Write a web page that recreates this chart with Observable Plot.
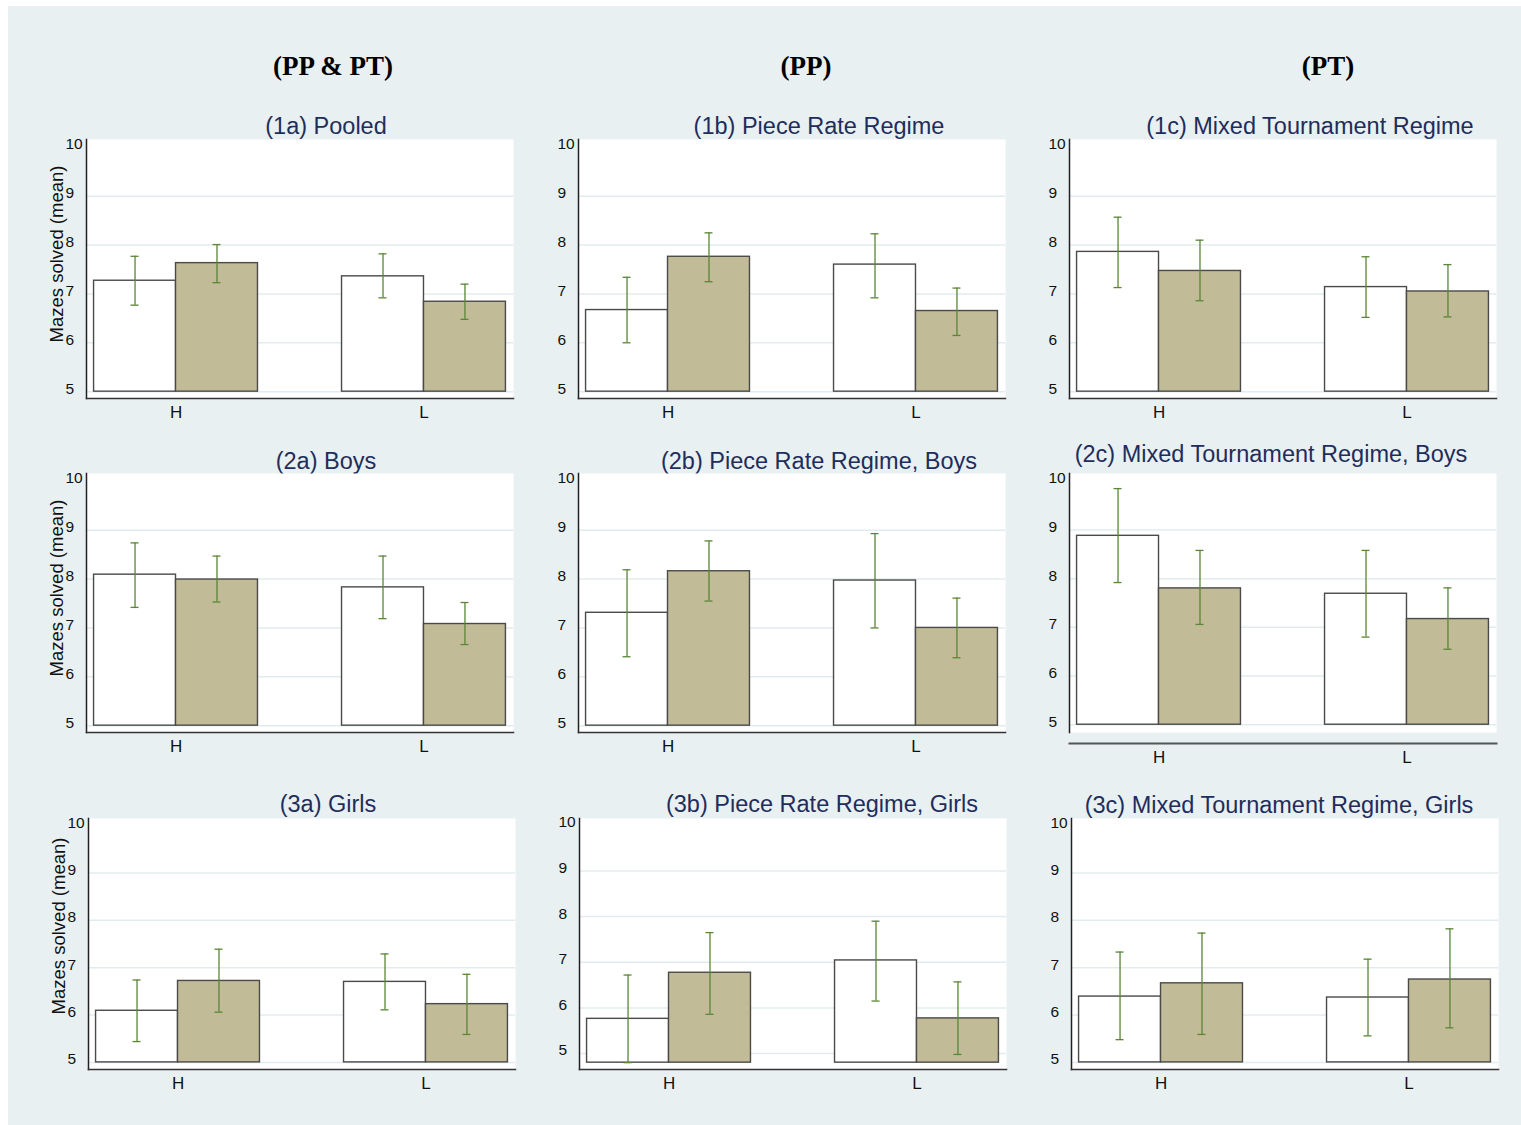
<!DOCTYPE html>
<html>
<head>
<meta charset="utf-8">
<script src="https://cdn.jsdelivr.net/npm/d3@7"></script>
<script src="https://cdn.jsdelivr.net/npm/@observablehq/plot@0.6"></script>
<style>
  body { margin: 0; background: #ffffff; }
  #page { position: relative; width: 1521px; height: 1125px; overflow: hidden; }
  #bg { position: absolute; left: 8px; top: 6px; right: 0; bottom: 0; background: #e8f0f2; }
  .head {
    position: absolute; transform: translate(-50%, -50%); white-space: nowrap;
    font-family: "Liberation Serif", "Times New Roman", serif; font-weight: bold;
    font-size: 27px; color: #000;
  }
  .panel { position: absolute; }
</style>
</head>
<body>
<div id="page"><div id="bg"></div></div>
<script>
// ---- data ----
const categories = ["H", "L"];
const seriesNames = ["seriesA", "seriesB"]; // white bars, tan bars
const columnHeads = ["(PP & PT)", "(PP)", "(PT)"];
const panelTitles = [
  "(1a) Pooled", "(1b) Piece Rate Regime", "(1c) Mixed Tournament Regime",
  "(2a) Boys", "(2b) Piece Rate Regime, Boys", "(2c) Mixed Tournament Regime, Boys",
  "(3a) Girls", "(3b) Piece Rate Regime, Girls", "(3c) Mixed Tournament Regime, Girls"
];
const yLabel = "Mazes solved (mean)";
const yTicks = [5, 6, 7, 8, 9, 10];
const gridTicks = [5, 6, 7, 8, 9];

// means and confidence bounds per panel, [H, L]
const meanA = [[7.27, 7.36], [6.67, 7.60], [7.86, 7.14],
               [8.09, 7.83], [7.31, 7.97], [8.88, 7.69],
               [6.09, 6.70], [5.76, 7.04], [6.39, 6.37]];
const lowA  = [[6.77, 6.92], [6.00, 6.92], [7.13, 6.52],
               [7.42, 7.19], [6.41, 7.00], [7.92, 6.80],
               [5.44, 6.11], [4.80, 6.15], [5.48, 5.56]];
const highA = [[7.77, 7.82], [7.34, 8.23], [8.57, 7.76],
               [8.74, 8.47], [8.19, 8.93], [9.85, 8.58],
               [6.74, 7.29], [6.72, 7.90], [7.33, 7.18]];
const meanB = [[7.63, 6.84], [7.76, 6.65], [7.47, 7.05],
               [7.99, 7.08], [8.16, 7.00], [7.80, 7.17],
               [6.72, 6.23], [6.77, 5.77], [6.67, 6.75]];
const lowB  = [[7.23, 6.48], [7.25, 6.15], [6.86, 6.53],
               [7.53, 6.66], [7.55, 6.39], [7.06, 6.55],
               [6.06, 5.59], [5.86, 4.98], [5.59, 5.73]];
const highB = [[8.01, 7.20], [8.25, 7.12], [8.10, 7.60],
               [8.47, 7.52], [8.78, 7.61], [8.58, 7.81],
               [7.39, 6.86], [7.65, 6.57], [7.73, 7.82]];
const barBase = [5, 5, 5, 5, 5, 5, 5, 4.8, 5];

// ---- layout ----
const plotW = 427;
const rowLefts = [[86, 578, 1069], [86, 578, 1069], [88, 579, 1071]];
const rowTops = [139, 473, 818];
const rowHeights = [259, 259, 251];
const yDomains = [[4.86, 10.16], [4.86, 10.16], [4.86, 10.16],
                  [4.86, 10.16], [4.86, 10.16], [4.84, 10.16],
                  [4.85, 10.15], [4.65, 10.15], [4.85, 10.15]];
const titleDx = [26, 27, 27, 26, 27, -12, 26, 29, -6];
const titleGap = [13, 13, 13, 12, 12, 19, 14, 14, 13];
const axisDrop = [0, 0, 0, 0, 0, 11, 0, 0, 0];
const headX = [333, 806, 1328];
const headY = 66;

const mL = 70, mR = 10, mT = 40, mB = 40;
const pIn = 0.339, pOut = 0.0305;
const step = plotW / (categories.length - pIn + 2 * pOut);
const bw = step * (1 - pIn);
const capHalf = 4;

const navy = "#1f2d5c";
const tan = "#c2bb97";
const edge = "#4a4a4a";
const green = "#5a8636";
const yTickSize = 15.5, xTickSize = 17;

const page = document.getElementById("page");

columnHeads.forEach((t, c) => {
  const d = document.createElement("div");
  d.className = "head";
  d.textContent = t;
  d.style.left = headX[c] + "px";
  d.style.top = headY + "px";
  page.appendChild(d);
});

panelTitles.forEach((title, i) => {
  const r = Math.floor(i / 3), c = i % 3;
  const H = rowHeights[r];
  const rowsA = categories.map((cat, k) => ({cat, series: seriesNames[0], mean: meanA[i][k], lo: lowA[i][k], hi: highA[i][k], base: barBase[i]}));
  const rowsB = categories.map((cat, k) => ({cat, series: seriesNames[1], mean: meanB[i][k], lo: lowB[i][k], hi: highB[i][k], base: barBase[i]}));

  const errMarks = (rows, shift) => [
    Plot.ruleX(rows, {x: "cat", y1: "lo", y2: "hi", dx: shift, stroke: green, strokeWidth: 1.3}),
    Plot.tickY(rows, {x: "cat", y: "lo", dx: shift, insetLeft: bw / 2 - capHalf, insetRight: bw / 2 - capHalf, stroke: green, strokeWidth: 1.3}),
    Plot.tickY(rows, {x: "cat", y: "hi", dx: shift, insetLeft: bw / 2 - capHalf, insetRight: bw / 2 - capHalf, stroke: green, strokeWidth: 1.3})
  ];

  const marks = [
    Plot.text([title], {frameAnchor: "top", dx: titleDx[i], dy: -titleGap[i], lineAnchor: "middle", fontSize: 23.5, fill: navy}),
    Plot.frame({fill: "white", stroke: "none"}),
    Plot.gridY(gridTicks, {stroke: "#e2ecef", strokeOpacity: 1, strokeWidth: 1.5}),
    Plot.barY(rowsA, {x: "cat", y1: "base", y2: "mean", fill: "white", stroke: edge, strokeWidth: 1.4, insetRight: bw / 2}),
    Plot.barY(rowsB, {x: "cat", y1: "base", y2: "mean", fill: tan, stroke: edge, strokeWidth: 1.4, insetLeft: bw / 2}),
    ...errMarks(rowsA, -bw / 4),
    ...errMarks(rowsB, bw / 4),
    Plot.frame({anchor: "left", stroke: "#222", strokeWidth: 1.5}),
    Plot.frame({anchor: "bottom", stroke: axisDrop[i] ? "#555" : "#333", strokeWidth: axisDrop[i] ? 2 : 1.5, dy: axisDrop[i]}),
    Plot.axisY({ticks: yTicks, tickFormat: "d", tickSize: 0, tickPadding: 21, textAnchor: "start", dy: -3, label: null, fill: "#111"}),
    Plot.axisX({tickSize: 0, tickPadding: 7 + axisDrop[i], label: null, fill: "#111"})
  ];
  if (c === 0) {
    marks.push(Plot.text([yLabel], {frameAnchor: "left", textAnchor: "middle", rotate: -90, dx: -29, dy: r === 2 ? -18 : -15, fontSize: 18.5, fill: "#111"}));
  }

  const svg = Plot.plot({
    width: mL + plotW + mR,
    height: mT + H + mB,
    marginLeft: mL, marginRight: mR, marginTop: mT, marginBottom: mB,
    style: "background: transparent; overflow: visible; font-family: 'Liberation Sans', Arial, sans-serif; font-size: 15px;",
    x: {domain: categories, paddingInner: pIn, paddingOuter: pOut, round: false},
    y: {domain: yDomains[i]},
    marks
  });
  // tick label sizes, set on each label text directly
  svg.querySelectorAll("text").forEach((t) => {
    const s = t.textContent;
    if (categories.includes(s)) t.style.fontSize = xTickSize + "px";
    else if (yTicks.map(String).includes(s)) t.style.fontSize = yTickSize + "px";
  });
  svg.classList.add("panel");
  svg.style.left = (rowLefts[r][c] - mL) + "px";
  svg.style.top = (rowTops[r] - mT) + "px";
  page.appendChild(svg);
});
</script>
</body>
</html>
